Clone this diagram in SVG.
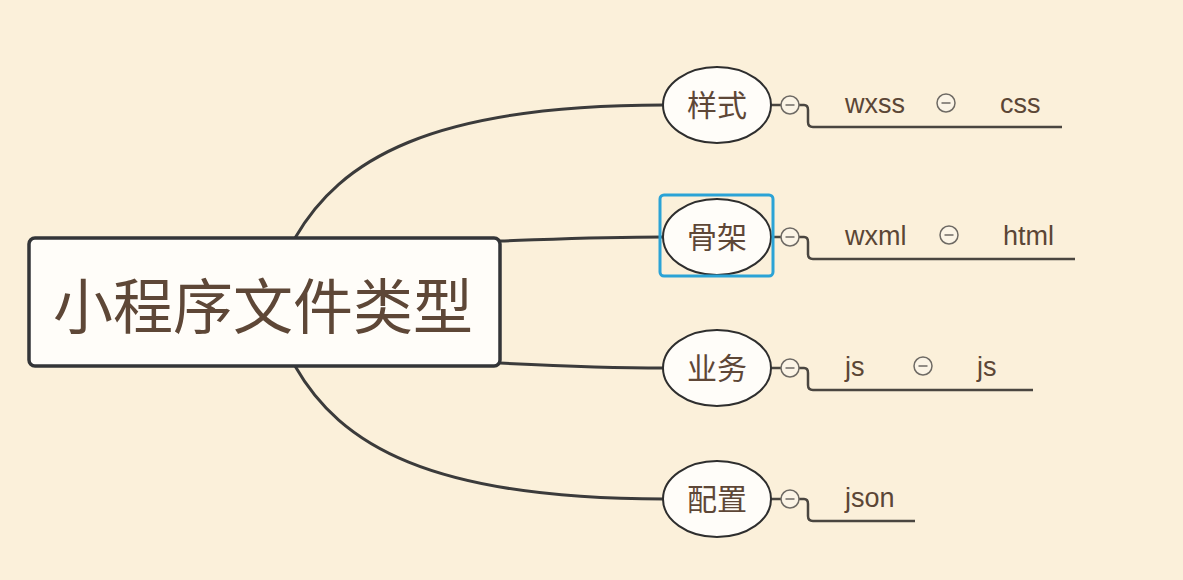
<svg xmlns="http://www.w3.org/2000/svg" width="1183" height="580" viewBox="0 0 1183 580">
<style>
.bg{fill:#fbf0da}
.conn{fill:none;stroke:#3b3b3b;stroke-width:3;stroke-linecap:round}
.ul{fill:none;stroke:#4a4640;stroke-width:2.5}
.node{fill:#fffdf9;stroke:#2e2e2e;stroke-width:2}
.root{fill:#fffdf9;stroke:#333538;stroke-width:3.5}
.sel{fill:none;stroke:#2ba3d6;stroke-width:3}
.cn{font-family:"Noto Sans CJK SC","Noto Sans",sans-serif;fill:#5e4737;text-anchor:middle}
.lt{font-family:"Liberation Sans",Arial,sans-serif;font-size:27px;fill:#5b4636}
.tog circle{fill:#fbf4e6;stroke:#6e6a64;stroke-width:1.5}
.tog line{stroke:#6e6a64;stroke-width:1.5}
</style>
<defs>
<g id="toggle" class="tog"><circle cx="0" cy="0" r="9"/><line x1="-4.5" y1="0" x2="4.5" y2="0"/></g>
</defs>
<rect class="bg" x="0" y="0" width="1183" height="580"/>
<g id="connectors">
<path class="conn" d="M295,238 C340,160 430,105 664,105"/>
<path class="conn" d="M500,241 C560,239 600,237 664,237"/>
<path class="conn" d="M500,363 C560,366 600,368 664,368"/>
<path class="conn" d="M295,366 C340,445 430,499 664,499"/>
<g class="ul">
<path d="M771,105 H781 M799,105 H804 Q808,105 808,110 V122 Q808,127 813,127 H1062"/>
<path d="M771,237 H781 M799,237 H804 Q808,237 808,242 V254 Q808,259 813,259 H1075"/>
<path d="M771,368 H781 M799,368 H804 Q808,368 808,373 V385 Q808,390 813,390 H1033"/>
<path d="M771,499 H781 M799,499 H804 Q808,499 808,504 V516 Q808,521 813,521 H915"/>
</g>
</g>
<g id="root">
<rect class="root" x="29" y="238" width="471" height="128" rx="6"/>
<text class="cn" x="263" y="329" font-size="60">小程序文件类型</text>
</g>
<g id="n-style">
<ellipse class="node" cx="717" cy="105" rx="54" ry="38"/>
<text class="cn" x="717" y="116" font-size="30">样式</text>
<use href="#toggle" x="790" y="105"/>
<text class="lt" x="845" y="113">wxss</text>
<use href="#toggle" x="946" y="103"/>
<text class="lt" x="1000" y="113">css</text>
</g>
<g id="n-skeleton">
<ellipse class="node" cx="717" cy="237" rx="54" ry="38"/>
<rect class="sel" x="660" y="195" width="113" height="81" rx="4"/>
<text class="cn" x="717" y="248" font-size="30">骨架</text>
<use href="#toggle" x="790" y="237"/>
<text class="lt" x="845" y="245">wxml</text>
<use href="#toggle" x="949" y="235"/>
<text class="lt" x="1003" y="245">html</text>
</g>
<g id="n-logic">
<ellipse class="node" cx="717" cy="368" rx="54" ry="38"/>
<text class="cn" x="717" y="379" font-size="30">业务</text>
<use href="#toggle" x="790" y="368"/>
<text class="lt" x="845" y="376">js</text>
<use href="#toggle" x="923" y="366"/>
<text class="lt" x="977" y="376">js</text>
</g>
<g id="n-config">
<ellipse class="node" cx="717" cy="499" rx="54" ry="38"/>
<text class="cn" x="717" y="510" font-size="30">配置</text>
<use href="#toggle" x="790" y="499"/>
<text class="lt" x="845" y="507">json</text>
</g>
</svg>
